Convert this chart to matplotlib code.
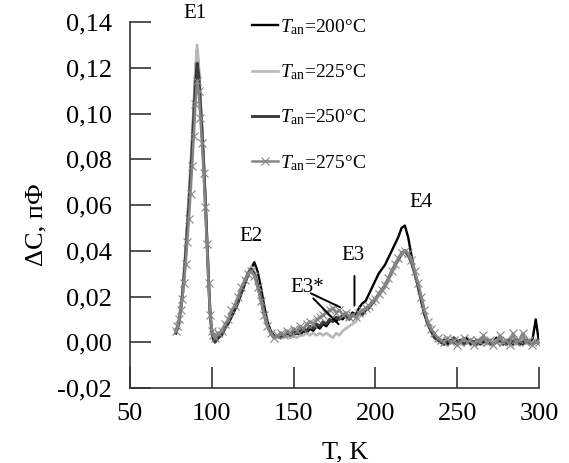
import numpy as np
import matplotlib
matplotlib.use("Agg")
import matplotlib.pyplot as plt

plt.rcParams['font.family'] = ['Liberation Serif', 'DejaVu Serif']
plt.rcParams['mathtext.fontset'] = 'custom'
plt.rcParams['mathtext.rm'] = 'Liberation Serif'
plt.rcParams['mathtext.it'] = 'Liberation Serif:italic'

# Temperature grid, K
T = list(range(78, 102)) + list(range(102, 301, 2))

# ΔC in units of 1e-3 pF
dC_200 = [4, 6, 10, 15, 21, 30, 40, 52, 63, 75, 88, 103, 118, 128, 120, 106, 94, 80, 64, 46, 28, 13, 5, 2,
          1, 2, 4, 6, 8, 11, 14, 17, 21, 25, 29, 32, 35, 31, 24, 16, 9, 5, 3, 2,
          3, 2, 3, 2, 3, 4, 3, 5, 4, 6, 5, 7, 6, 8, 7, 9, 10, 9, 11, 10, 12, 11, 13, 12,
          15, 17, 18, 21, 24, 27, 30, 32, 34, 37, 40, 43, 46, 50, 51, 46, 38, 31, 24, 18, 12, 8, 5, 3, 1,
          0, 1, -1, 1, 0, -1, 1, 0, 2, -1, 0, 1, -1, 0, 1, -1, 0, 2, 0, -1, 1, 0, -1, 1, 0, -1, 1, 0, 1, 10, 0]
dC_225 = [5, 7, 11, 16, 22, 31, 41, 53, 65, 77, 90, 105, 120, 130, 122, 108, 95, 81, 65, 47, 29, 14, 6, 3,
          2, 3, 5, 7, 10, 13, 16, 19, 23, 27, 30, 33, 31, 26, 20, 13, 7, 4, 2, 2,
          3, 2, 3, 2, 3, 2, 3, 3, 4, 3, 4, 3, 4, 3, 4, 3, 2, 4, 3, 5, 6, 7, 8, 9,
          11, 12, 14, 15, 17, 18, 20, 22, 24, 27, 30, 33, 36, 38, 40, 39, 36, 31, 26, 20, 14, 9, 6, 3, 2,
          1, 0, 1, 0, 1, 0, -1, 1, 0, 1, -1, 0, 1, 0, -1, 1, 0, 1, -1, 0, 1, 0, 1, -1, 0, 1, 0, -1, 0, 1, 0]
dC_250 = [4, 6, 9, 14, 20, 28, 38, 49, 60, 72, 85, 99, 113, 122, 117, 104, 92, 78, 62, 45, 27, 12, 4, 1,
          0, 2, 3, 6, 9, 12, 15, 18, 22, 26, 30, 32, 30, 25, 19, 12, 7, 4, 2, 3,
          2, 3, 4, 3, 5, 4, 5, 6, 5, 7, 6, 8, 7, 9, 8, 10, 9, 11, 10, 12, 11, 10, 12, 11,
          13, 12, 14, 15, 17, 19, 21, 23, 25, 28, 31, 34, 36, 39, 40, 38, 35, 30, 25, 19, 13, 8, 5, 2, 1,
          0, -1, 1, 0, 2, 0, 1, -1, 0, 1, 0, -1, 1, 0, 1, 0, -1, 0, 1, 0, -1, 1, 0, 1, -1, 0, 1, 0, -1, 0, 1]
dC_275 = [5, 7, 10, 14, 19, 26, 34, 44, 54, 65, 77, 90, 104, 114, 110, 98, 87, 74, 59, 43, 26, 12, 5, 3,
          2, 4, 5, 8, 10, 14, 16, 20, 24, 27, 30, 31, 29, 24, 18, 12, 7, 4, 2, 3,
          4, 3, 5, 4, 6, 5, 7, 6, 8, 9, 8, 10, 11, 12, 13, 14, 15, 13, 14, 12, 13, 11, 12, 11,
          13, 14, 15, 16, 18, 19, 21, 23, 25, 28, 31, 34, 37, 39, 40, 39, 36, 31, 26, 20, 14, 9, 6, 4, 2,
          1, 0, 2, 0, 1, -1, 0, 2, 0, 1, -1, 1, 0, 3, 0, 1, -1, 0, 3, 0, 1, -1, 4, 0, 1, 4, 0, 1, -1, 0, 0]

labels = [r'$T_{\mathrm{an}}$=200°C', r'$T_{\mathrm{an}}$=225°C',
          r'$T_{\mathrm{an}}$=250°C', r'$T_{\mathrm{an}}$=275°C']

x_ticks = [50, 100, 150, 200, 250, 300]
y_ticks = [-0.02, 0.0, 0.02, 0.04, 0.06, 0.08, 0.10, 0.12, 0.14]

for arr in (dC_200, dC_225, dC_250, dC_275):
    assert len(arr) == len(T), (len(arr), len(T))

W, H = 569, 463
fig = plt.figure(figsize=(W / 100, H / 100), dpi=100)
ax = fig.add_axes([130 / W, 1 - 388 / H, (539 - 130) / W, (388 - 22) / H])

Tarr = np.array(T)
ax.plot(Tarr, np.array(dC_200) / 1000, color='black', lw=1.7, label=labels[0])
ax.plot(Tarr, np.array(dC_225) / 1000, color='#b8b8b8', lw=1.9, label=labels[1])
ax.plot(Tarr, np.array(dC_250) / 1000, color='#3a3a3a', lw=2.1, label=labels[2])
ax.plot(Tarr, np.array(dC_275) / 1000, color='#858585', lw=1.8, marker='x', ms=5.5, mew=0.8,
        label=labels[3])

ax.set_xlim(50, 300)
ax.set_ylim(-0.02, 0.14)
ax.set_xticks(x_ticks)
ax.set_yticks(y_ticks)
ax.set_yticklabels([f'{v:.2f}'.replace('.', ',') for v in y_ticks])
ax.set_xticklabels([str(v) for v in x_ticks])
for s in ('top', 'right'):
    ax.spines[s].set_visible(False)
for s in ('left', 'bottom'):
    ax.spines[s].set_color('#333333')
    ax.spines[s].set_linewidth(1.2)
ax.tick_params(axis='both', direction='in', length=15, width=1.2, color='#333333',
               labelsize=19)
ax.tick_params(axis='y', pad=13)
ax.tick_params(axis='x', pad=11)

fig.text(345 / W, 1 - 452 / H, 'T, K', ha='center', va='center', fontsize=19)
fig.text(36 / W, 1 - 225 / H, 'ΔC, пФ', ha='center', va='center', rotation=90, fontsize=19)

# peak labels
fs = 15
ax.text(89.8, 0.1437, 'E1', ha='center', va='center', fontsize=fs, clip_on=False)
ax.text(124, 0.0463, 'E2', ha='center', va='center', fontsize=fs)
ax.text(158.4, 0.024, 'E3*', ha='center', va='center', fontsize=fs)
ax.text(186.6, 0.038, 'E3', ha='center', va='center', fontsize=fs)
ax.text(227.6, 0.0611, 'E4', ha='center', va='center', fontsize=fs)
lp = dict(arrowstyle='-', color='black', lw=1.4, shrinkA=0, shrinkB=0)
ax.annotate('', xy=(187.2, 0.016), xytext=(187.2, 0.029), arrowprops=lp)
ax.annotate('', xy=(178.5, 0.0153), xytext=(160.5, 0.0214), arrowprops=lp)
ax.annotate('', xy=(177.5, 0.0079), xytext=(162.0, 0.0192), arrowprops=lp)

leg = ax.legend(loc='upper left', bbox_to_anchor=(252 / W, 1 - 17 / H),
                bbox_transform=fig.transFigure, frameon=False, fontsize=14,
                handlelength=1.35, handletextpad=0.1, labelspacing=1.32,
                borderpad=0, borderaxespad=0, numpoints=1)

fig.savefig('out.png', dpi=100)
